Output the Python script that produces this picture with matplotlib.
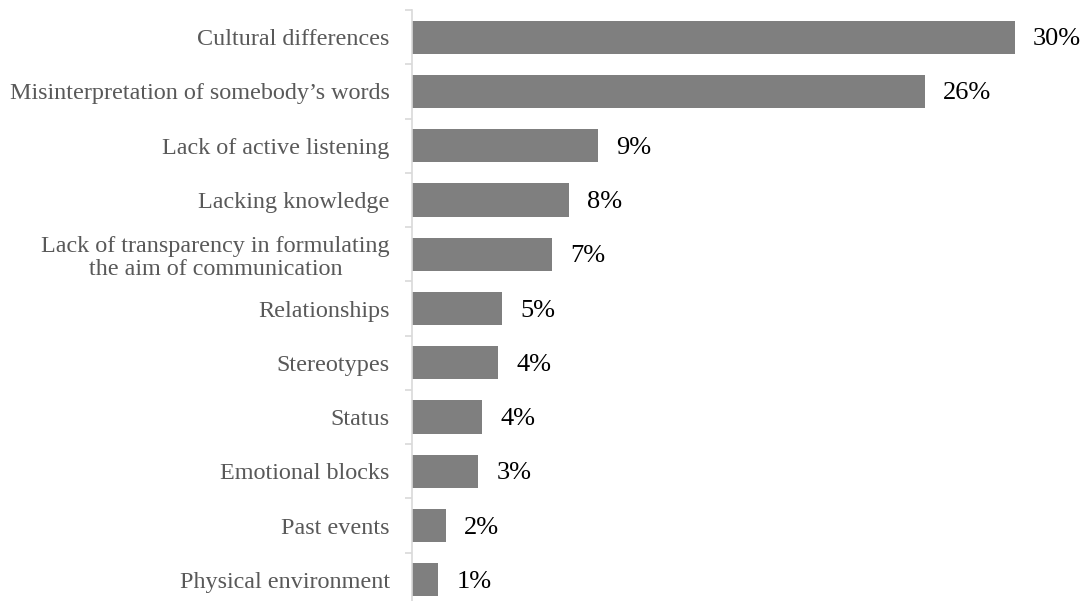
import math
import matplotlib
matplotlib.use("Agg")
import matplotlib.pyplot as plt

categories = [
    "Cultural differences",
    "Misinterpretation of somebody\u2019s words",
    "Lack of active listening",
    "Lacking knowledge",
    "Lack of transparency in formulating\nthe aim of communication",
    "Relationships",
    "Stereotypes",
    "Status",
    "Emotional blocks",
    "Past events",
    "Physical environment",
]
shares = [30.0, 25.5, 9.25, 7.8, 6.95, 4.5, 4.3, 3.5, 3.3, 1.7, 1.3]

plt.rcParams["font.family"] = ["Liberation Serif", "DejaVu Serif"]

W, H = 1086, 601
fig = plt.figure(figsize=(W / 100, H / 100), dpi=100)
ax_left = 412 / W
ax_top = 1 - 10 / H
ax_bottom = 1 - 607 / H
xmax = 33.0
px_per_unit = 603 / 30.0
ax_width = xmax * px_per_unit / W
ax = fig.add_axes([ax_left, ax_bottom, ax_width, ax_top - ax_bottom])

n = len(categories)
ypos = list(range(n))
ax.barh(ypos, shares, height=0.61, color="#7f7f7f", zorder=2)
ax.set_ylim(n - 0.5, -0.5)
ax.set_xlim(0, xmax)

for y, v in zip(ypos, shares):
    label = f"{int(math.floor(v + 0.5))}%"
    ax.annotate(label, xy=(v, y), xytext=(13, -1.5), textcoords="offset points",
                va="center", ha="left", fontsize=19, color="black")

ax.set_yticks(ypos)
ax.set_yticklabels(categories, fontsize=17.4, color="#595959", linespacing=1.15,
                   ha="right", multialignment="center")
ax.tick_params(axis="y", length=0, pad=16)
# category boundary tick marks on the left of the axis line
ax.set_yticks([i - 0.5 for i in range(n + 1)], minor=True)
ax.tick_params(axis="y", which="minor", length=5, color="#d9d9d9", width=1.2)

ax.set_xticks([])
for side in ("top", "right", "bottom"):
    ax.spines[side].set_visible(False)
ax.spines["left"].set_color("#d9d9d9")
ax.spines["left"].set_linewidth(1.2)

fig.savefig("out.png", dpi=100)
